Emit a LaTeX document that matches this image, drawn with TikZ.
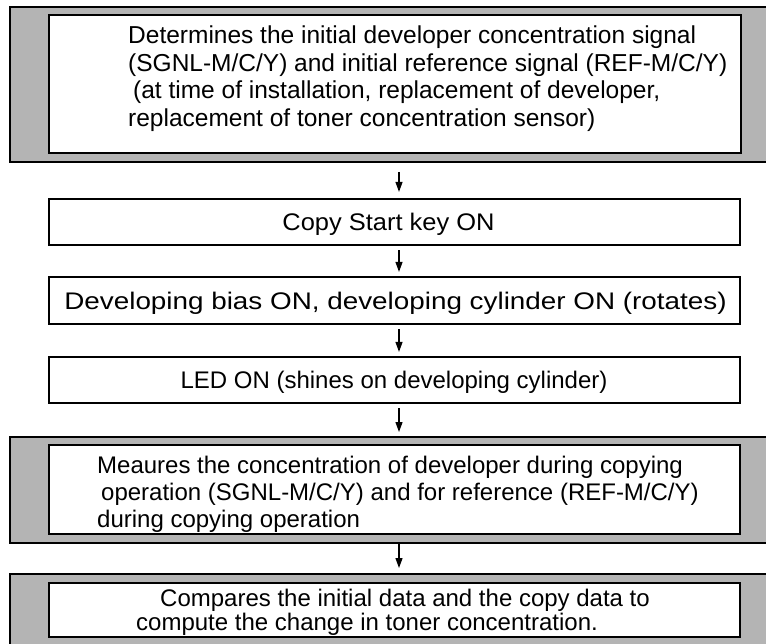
\documentclass[tikz,border=0pt]{standalone}
\usepackage{fontspec}
\setmainfont{Liberation Sans}
\usetikzlibrary{arrows.meta}
\definecolor{panelgray}{RGB}{180,180,180}
\begin{document}
\begin{tikzpicture}[x=1bp,y=-1bp,
  outerbox/.style={draw=black,line width=1.5bp,fill=panelgray},
  innerbox/.style={draw=black,line width=2.2bp,fill=white},
  plainbox/.style={draw=black,line width=2.2bp,fill=white},
  txt/.style={inner sep=0pt,anchor=base west,font=\fontsize{24bp}{27bp}\selectfont},
  ttxt/.style={txt,font=\fontsize{24.5bp}{27bp}\selectfont},
  ctxt/.style={inner sep=0pt,anchor=base,font=\fontsize{24bp}{27bp}\selectfont},
  arr/.style={line width=1.2bp,-{Triangle[width=7bp,length=10bp]}}]
\useasboundingbox (0,0) rectangle (766,644);
\fill[white] (0,0) rectangle (766,644);
% top panel
\draw[outerbox] (10,7) rectangle (790,162);
\coordinate (topS) at (399,162);
\draw[innerbox] (49,15) rectangle (741,153);
\node[ttxt] (t1) at (128,44) {Determines the initial developer concentration signal};
\node[ttxt] (t2) at (128,72) {(SGNL-M/C/Y) and initial reference signal (REF-M/C/Y)};
\node[ttxt] (t3) at (133,99) {(at time of installation, replacement of developer,};
\node[ttxt] (t4) at (128,127) {replacement of toner concentration sensor)};
% middle boxes
\node[plainbox,minimum width=691bp,minimum height=46bp,inner sep=0pt] (copy) at (394.5,222) {};
\node[ctxt] (copyt) at (388.5,230.5) {\scalebox{1.06}[1]{Copy Start key ON}};
\node[plainbox,minimum width=691bp,minimum height=47bp,inner sep=0pt] (bias) at (394.5,300.5) {};
\node[ctxt] (biast) at (395.5,309) {\scalebox{1.16}[1]{Developing bias ON, developing cylinder ON (rotates)}};
\node[plainbox,minimum width=691bp,minimum height=46bp,inner sep=0pt] (led) at (394.5,380) {};
\node[ctxt] (ledt) at (394,388.5) {LED ON (shines on developing cylinder)};
% measure panel
\draw[outerbox] (10,437) rectangle (790,543);
\coordinate (measN) at (399,437);
\coordinate (measS) at (399,543);
\draw[innerbox] (49,445) rectangle (740,534);
\node[txt] (m1) at (97,473) {Meaures the concentration of developer during copying};
\node[txt] (m2) at (101,500) {operation (SGNL-M/C/Y) and for reference (REF-M/C/Y)};
\node[txt] (m3) at (97,527) {during copying operation};
% compare panel
\draw[outerbox] (10,574) rectangle (790,660);
\coordinate (compN) at (399,574);
\draw[innerbox] (49,583) rectangle (740,637);
\node[txt] (c1) at (160,606) {Compares the initial data and the copy data to};
\node[txt] (c2) at (136,630) {compute the change in toner concentration.};
% arrows
\coordinate (ax) at (399,0);
\draw[arr,shorten <=10bp,shorten >=6bp] (topS) -- (copy.north -| ax);
\draw[arr,shorten <=4bp,shorten >=4bp] (copy.south -| ax) -- (bias.north -| ax);
\draw[arr,shorten <=4bp,shorten >=4bp] (bias.south -| ax) -- (led.north -| ax);
\draw[arr,shorten <=4bp,shorten >=5bp] (led.south -| ax) -- (measN);
\draw[arr,shorten >=6bp] (measS) -- (compN);
\end{tikzpicture}
\end{document}
